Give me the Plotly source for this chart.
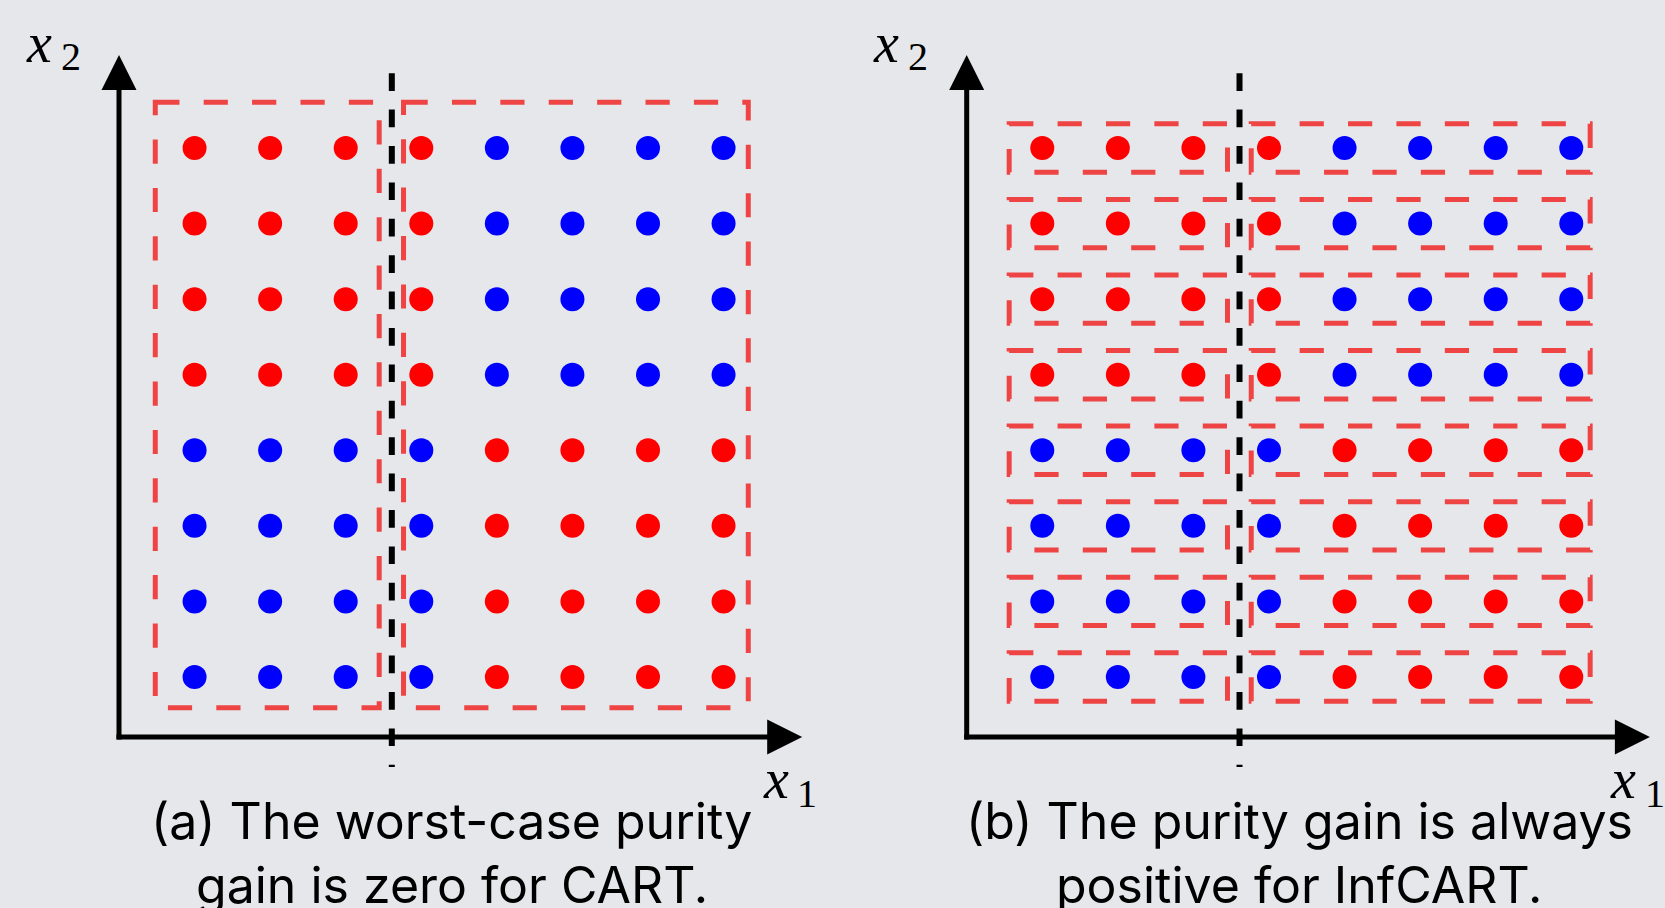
import plotly.graph_objects as go

# ---------------- data ----------------
cols = [1, 2, 3, 4, 5, 6, 7, 8]
rows = [1, 2, 3, 4, 5, 6, 7, 8]          # bottom -> top
# class of each point: 1 = red, 0 = blue (per row, per column)
top_pattern = [1, 1, 1, 1, 0, 0, 0, 0]
bottom_pattern = [0, 0, 0, 0, 1, 1, 1, 1]
labels = [bottom_pattern] * 4 + [top_pattern] * 4   # rows 1..8

split_x = 3.61                 # dashed split line position
split_y = (8.99, -0.19)        # top, bottom extent of split line

a_box_x = [(0.48, 3.443), (3.765, 8.327)]   # panel (a) boxes (x0, x1)
a_box_y = (8.605, 0.594)                    # top, bottom
b_box_x = [(0.562, 3.451), (3.765, 8.25)]   # panel (b) boxes per row
b_box_half = 0.32

axis_level = 0.206      # data y of the x1 axis
axis_origin = 0.0       # data x of the x2 axis
x_tip, y_tip = 9.04, 9.23
head_len, head_half = 0.463, 0.2316

caption_lines = [["(a) The worst-case purity", "gain is zero for CART."],
                 ["(b) The purity gain is always", "positive for InfCART."]]
caption_x = 4.406
caption_y = [-0.905, -1.75]

# axis labels: (symbol, subscript) with positions
x1_label = ("x", "1")
x2_label = ("x", "2")

# ---------------- styling ----------------
FIG_W, FIG_H = 1665, 908
BG = "#E5E7EB"
RED, BLUE, BOX_RED = "#FF0000", "#0000FF", "#EF4444"
UNIT = (677 - 148) / 7.0           # px per data unit
ORIGIN_PX = [119.0, 966.7]         # px of x=0 in each panel
ROW1_PX = 677.0                    # px of y=1

fig = go.Figure()

xs_r, ys_r, xs_b, ys_b = [], [], [], []
for r, lab in zip(rows, labels):
    for c, v in zip(cols, lab):
        (xs_r if v else xs_b).append(c)
        (ys_r if v else ys_b).append(r)

shapes = []
annotations = []
for p in range(2):
    xr = "x" if p == 0 else "x2"
    yr = "y" if p == 0 else "y2"
    for xx, yy, col in [(xs_r, ys_r, RED), (xs_b, ys_b, BLUE)]:
        fig.add_trace(go.Scatter(x=xx, y=yy, mode="markers", xaxis=xr, yaxis=yr,
                                 marker=dict(size=24, color=col, line=dict(width=0)),
                                 showlegend=False, hoverinfo="skip"))
    box_line = dict(color=BOX_RED, width=5, dash="24.2px,24.2px")
    if p == 0:
        for (x0, x1) in a_box_x:
            shapes.append(dict(type="rect", xref=xr, yref=yr, x0=x0, x1=x1,
                               y0=a_box_y[0], y1=a_box_y[1], line=box_line, layer="above"))
    else:
        for r in rows:
            for (x0, x1) in b_box_x:
                shapes.append(dict(type="rect", xref=xr, yref=yr, x0=x0, x1=x1,
                                   y0=r + b_box_half, y1=r - b_box_half,
                                   line=box_line, layer="above"))
    # split line
    shapes.append(dict(type="line", xref=xr, yref=yr, x0=split_x, x1=split_x,
                       y0=split_y[0], y1=split_y[1],
                       line=dict(color="black", width=6, dash="17.7px,18.7px"), layer="above"))
    # axes
    half_w = 2.5 / UNIT
    shapes.append(dict(type="line", xref=xr, yref=yr, x0=axis_origin - half_w, x1=x_tip - head_len + 0.05,
                       y0=axis_level, y1=axis_level, line=dict(color="black", width=5)))
    shapes.append(dict(type="line", xref=xr, yref=yr, x0=axis_origin, x1=axis_origin,
                       y0=axis_level - half_w, y1=y_tip - head_len + 0.05, line=dict(color="black", width=5)))
    shapes.append(dict(type="path", xref=xr, yref=yr, fillcolor="black", line=dict(width=0),
                       path=f"M{x_tip},{axis_level} L{x_tip - head_len},{axis_level + head_half} "
                            f"L{x_tip - head_len},{axis_level - head_half} Z"))
    shapes.append(dict(type="path", xref=xr, yref=yr, fillcolor="black", line=dict(width=0),
                       path=f"M{axis_origin},{y_tip} L{axis_origin - head_half},{y_tip - head_len} "
                            f"L{axis_origin + head_half},{y_tip - head_len} Z"))
    # axis labels (italic symbol + upright subscript)
    for (sym, sub), (sx, sy, bx, by) in [(x1_label, (8.49, -0.351, 8.95, -0.542)),
                                         (x2_label, (-1.26, 9.388, -0.80, 9.211))]:
        annotations.append(dict(xref=xr, yref=yr, x=sx, y=sy, xanchor="left", yanchor="middle",
                                text=f"<i>{sym}</i>", showarrow=False,
                                font=dict(family="Liberation Serif", size=56, color="black")))
        annotations.append(dict(xref=xr, yref=yr, x=bx, y=by, xanchor="left", yanchor="middle",
                                text=sub, showarrow=False,
                                font=dict(family="Liberation Serif", size=40, color="black")))
    for line, yy in zip(caption_lines[p], caption_y):
        annotations.append(dict(xref=xr, yref=yr, x=caption_x, y=yy, xanchor="center",
                                yanchor="middle", text=line, showarrow=False,
                                font=dict(family="Inter", size=50, color="black")))

y_top = 1 + ROW1_PX / UNIT
y_bot = 1 - (FIG_H - ROW1_PX) / UNIT
half = FIG_W / 2.0
layout_axes = {}
for p, key in enumerate(["", "2"]):
    x0px = p * half
    xmin = -(ORIGIN_PX[p] - x0px) / UNIT
    xmax = (x0px + half - ORIGIN_PX[p]) / UNIT
    layout_axes["xaxis" + key] = dict(domain=[p * 0.5, p * 0.5 + 0.5], range=[xmin, xmax],
                                      visible=False, fixedrange=True,
                                      anchor="y" + key)
    layout_axes["yaxis" + key] = dict(domain=[0, 1], range=[y_bot, y_top], visible=False,
                                      fixedrange=True, anchor="x" + key)

fig.update_layout(width=FIG_W, height=FIG_H, margin=dict(l=0, r=0, t=0, b=0),
                  paper_bgcolor=BG, plot_bgcolor=BG, shapes=shapes, annotations=annotations,
                  showlegend=False, **layout_axes)
fig.write_html("out.html", config={"displayModeBar": False},
               post_script="document.body.style.margin='0';"
                           "document.body.style.background='" + BG + "';")
